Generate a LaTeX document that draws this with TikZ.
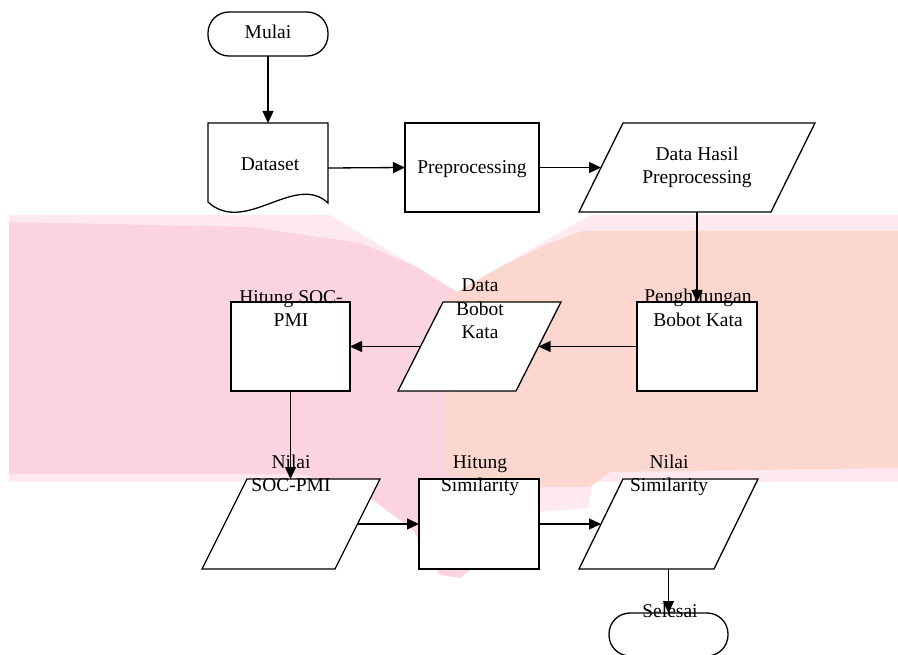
\documentclass[tikz,border=0pt]{standalone}
\usepackage{fontspec}
\setmainfont{Liberation Serif}
\usetikzlibrary{arrows.meta}
\definecolor{wmpink}{RGB}{252,211,224}
\definecolor{wmsalmon}{RGB}{252,215,207}
\definecolor{wmlight}{RGB}{253,233,239}
\newcommand\iopath[2]{\draw[shp] ([xshift=#2]#1.north west) -- (#1.north east) -- ([xshift=-#2]#1.south east) -- (#1.south west) -- cycle;}
\begin{document}
\begin{tikzpicture}[x=1pt,y=-1pt,
  shp/.style={draw=black, line width=1.3pt, fill=white, inner sep=0pt, outer sep=0pt},
  procbox/.style={shp, rectangle},
  term/.style={shp, rectangle, rounded corners=21pt},
  frame/.style={rectangle, inner sep=0pt, outer sep=0pt},
  lbl/.style={font=\fontsize{19.5}{23.4}\selectfont, align=center, inner sep=0pt, anchor=north, text=black},
  arr/.style={line width=1.3pt, draw=black, -{Triangle[length=12pt,width=11pt]}}]
\useasboundingbox (0,0) rectangle (898,655);
\fill[white] (0,0) rectangle (898,655);
% watermark
\fill[wmlight] (9,215) -- (898,215) -- (898,482) -- (9,482) -- cycle;
\fill[white] (330,215) -- (590,215) -- (457,292) -- cycle;
\fill[wmpink] (9,222) -- (250,227) -- (360,243) -- (417,267) -- (457,292) -- (446,300) -- (446,474) -- (310,474) -- (9,474) -- cycle;
\fill[wmsalmon] (457,292) -- (500,267) -- (550,243) -- (583,231) -- (898,231) -- (898,468) -- (610,472) -- (590,487) -- (540,487) -- (446,474) -- (446,300) -- cycle;
\fill[wmlight] (540,487) -- (592,487) -- (588,508) -- (540,512) -- cycle;
\fill[wmpink] (300,473) -- (373,500) -- (413,530) -- (440,575) -- (460,578) -- (500,545) -- (540,505) -- (540,487) -- (446,474) -- cycle;
% shapes
\node[term, minimum width=120pt, minimum height=44pt] (mulai) at (268,34) {};
\draw[shp] (208,123) -- (328,123) -- (328,203) .. controls (295,172) and (245,236) .. (208,202) -- cycle;
\node[frame, minimum width=120pt, minimum height=90pt] (dataset) at (268,168) {};
\node[procbox, minimum width=134pt, minimum height=89pt] (prep) at (472,167.5) {};
\node[frame, minimum width=236pt, minimum height=89pt] (hasil) at (697,167.5) {};
\iopath{hasil}{44pt}
\node[procbox, minimum width=120pt, minimum height=89pt] (bobot) at (697,346.5) {};
\node[frame, minimum width=163pt, minimum height=89pt] (databobot) at (479.5,346.5) {};
\iopath{databobot}{45pt}
\node[procbox, minimum width=119pt, minimum height=89pt] (soc) at (290.5,346.5) {};
\node[frame, minimum width=178pt, minimum height=90pt] (nilaisoc) at (291,524) {};
\iopath{nilaisoc}{45pt}
\node[procbox, minimum width=120pt, minimum height=90pt] (sim) at (479,524) {};
\node[frame, minimum width=179pt, minimum height=90pt] (nilaisim) at (668.5,524) {};
\iopath{nilaisim}{44pt}
\node[term, minimum width=119pt, minimum height=43pt] (selesai) at (668.5,634.5) {};
% labels
\node[lbl] (tmulai) at (268,21.9) {\strut Mulai};
\node[lbl] (tdataset) at (270,153.6) {\strut Dataset};
\node[lbl] (tprep) at (472,156.9) {\strut Preprocessing};
\node[lbl] (thasil) at (697,143.6) {\strut Data Hasil\\\strut Preprocessing};
\node[lbl] (tsoc) at (291,286.9) {\strut Hitung SOC-\\\strut PMI};
\node[lbl] (tdatabobot) at (480,275.3) {\strut Data\\\strut Bobot\\\strut Kata};
\node[lbl] (tbobot) at (698,286.3) {\strut Penghitungan\\\strut Bobot Kata};
\node[lbl] (tnilaisoc) at (291,451.9) {\strut Nilai\\\strut SOC-PMI};
\node[lbl] (tsim) at (480,451.9) {\strut Hitung\\\strut Similarity};
\node[lbl] (tnilaisim) at (669,451.9) {\strut Nilai\\\strut Similarity};
\node[lbl] (tselesai) at (670,600.9) {\strut Selesai};
% connectors
\draw[arr] (mulai.south) -- (dataset.north);
\draw[arr] (dataset.east) -- (prep.west);
\draw[arr] (prep.east) -- ([xshift=22pt]hasil.west);
\draw[arr] (hasil.south) -- (bobot.north);
\draw[arr] (bobot.west) -- ([xshift=-22.5pt]databobot.east);
\draw[arr] ([xshift=22.5pt]databobot.west) -- (soc.east);
\draw[arr] (soc.south) -- (soc.south |- nilaisoc.north);
\draw[arr] ([xshift=-22.5pt]nilaisoc.east) -- (sim.west);
\draw[arr] (sim.east) -- ([xshift=22pt]nilaisim.west);
\draw[arr] (nilaisim.south) -- (selesai.north);
\end{tikzpicture}
\end{document}
